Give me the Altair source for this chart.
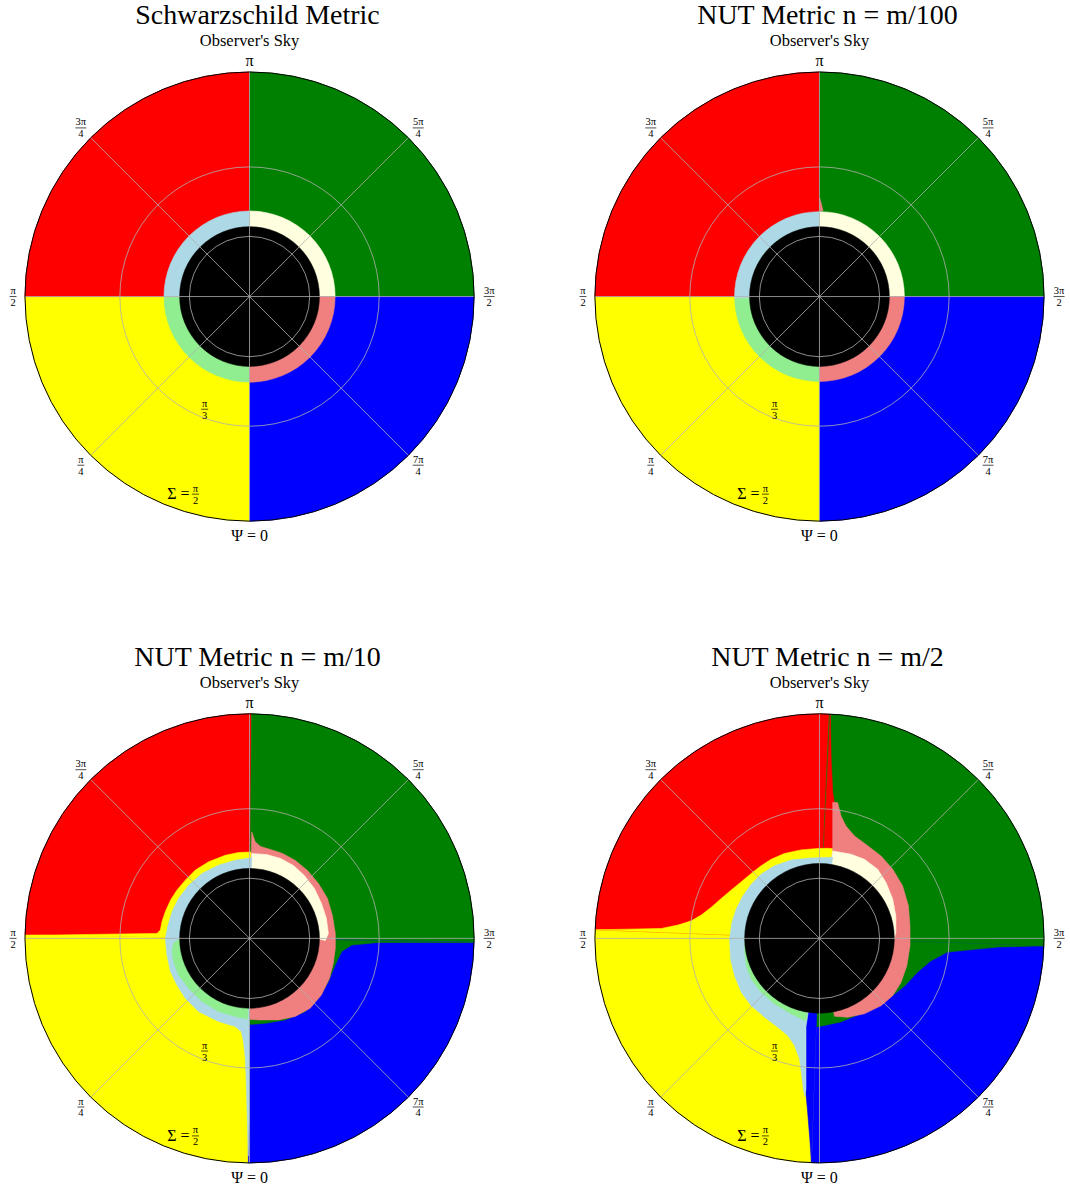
import math
import numpy as np
import pandas as pd
import altair as alt

# ------------------------------------------------------------------ colours
RED, GREEN, BLUE, YELLOW = "#ff0000", "#008000", "#0000ff", "#ffff00"
LIGHTBLUE, LIGHTYELLOW, LIGHTGREEN, LIGHTCORAL = "#add8e6", "#ffffe0", "#90ee90", "#f08080"
SHADOW_COLOR = "#000000"
GRID_COLOR = "#b0b0b0"
SERIF = "Liberation Serif"

# ------------------------------------------------------------------ panels
TITLES = [
    "Schwarzschild Metric",
    "NUT Metric n = m/100",
    "NUT Metric n = m/10",
    "NUT Metric n = m/2",
]
SUBTITLE = "Observer's Sky"

# Ψ (deg) where the four direct-image colours meet the rim of the sky,
# in the order yellow -> red -> green -> blue -> (yellow)
RIM_EDGES = [
    [0.0, 90.0, 180.0, 270.0, 360.0],
    [0.0, 90.0, 180.0, 270.0, 360.0],
    [0.3, 91.0, 180.5, 271.0, 360.3],
    [2.0, 92.2, 182.5, 272.0, 362.0],
]
RIM_COLORS = [YELLOW, RED, GREEN, BLUE]

# concentric secondary-image ring (first two panels)
RING_EDGES = [
    [0.0, 90.0, 180.0, 270.0, 360.0],
    [0.0, 89.0, 180.0, 270.0, 360.0],
]
RING_COLORS = [LIGHTGREEN, LIGHTBLUE, LIGHTYELLOW, LIGHTCORAL]
RING_RADIUS = [0.381, 0.378]

# shadow radius, in units of tan(Σ/2)
SHADOW_RADIUS = [0.311, 0.311, 0.311, 0.333]

# ------------------------------------------------------------------ twisted regions
# vertices (X, Y) on the projected sky plane, unit = rim of the sky
NUT100_CORAL_WISP = [(0.001, 0.440), (0.016, 0.382), (0.001, 0.382)]

NUT10_GREEN = [(0.999, -0.018), (0.573, -0.018), (0.455, -0.030), (0.410, -0.059),
               (0.381, -0.119), (0.351, -0.192), (0.307, -0.267), (0.248, -0.326),
               (0.159, -0.363), (0.070, -0.378), (-0.007, -0.384), (0.0, 0.0)]
NUT10_YELLOW = [(-0.999, 0.013), (-0.412, 0.022), (-0.397, 0.037), (-0.390, 0.074),
                (-0.375, 0.119), (-0.352, 0.170), (-0.323, 0.215), (-0.286, 0.259),
                (-0.241, 0.304), (-0.182, 0.341), (-0.108, 0.370), (-0.049, 0.382),
                (0.010, 0.385), (0.0, 0.0)]
NUT10_CORAL = [(0.010, 0.474), (0.025, 0.430), (0.049, 0.409), (0.093, 0.396),
               (0.147, 0.378), (0.204, 0.347), (0.258, 0.302), (0.307, 0.244),
               (0.347, 0.178), (0.369, 0.102), (0.382, 0.022), (0.382, -0.044),
               (0.373, -0.111), (0.356, -0.178), (0.320, -0.252), (0.270, -0.311),
               (0.203, -0.348), (0.129, -0.363), (0.040, -0.363), (-0.002, -0.360),
               (0.0, 0.0)]
NUT10_CREAM = [(0.010, 0.378), (0.076, 0.373), (0.138, 0.356), (0.196, 0.324),
               (0.244, 0.280), (0.289, 0.222), (0.320, 0.156), (0.342, 0.089),
               (0.351, 0.022), (0.338, -0.009), (0.311, -0.004), (0.0, 0.0)]
NUT10_LIGHTBLUE = [(0.010, 0.359), (-0.064, 0.348), (-0.138, 0.326), (-0.212, 0.289),
                   (-0.271, 0.237), (-0.316, 0.178), (-0.345, 0.119), (-0.363, 0.059),
                   (-0.375, 0.000), (-0.368, -0.074), (-0.352, -0.148), (-0.323, -0.208),
                   (-0.286, -0.267), (-0.227, -0.326), (-0.138, -0.370), (-0.064, -0.392),
                   (-0.037, -0.415), (-0.027, -0.459), (-0.019, -0.533), (-0.015, -0.622),
                   (-0.010, -0.800), (-0.006, -0.969), (-0.002, -0.800), (-0.002, -0.387),
                   (0.0, 0.0)]
NUT10_LIGHTGREEN = [(-0.308, 0.000), (-0.338, -0.022), (-0.345, -0.059), (-0.338, -0.104),
                    (-0.316, -0.163), (-0.271, -0.222), (-0.212, -0.281), (-0.138, -0.326),
                    (-0.064, -0.348), (-0.008, -0.359), (0.0, 0.0)]

NUT2_GREEN = [(0.999, -0.033), (0.792, -0.039), (0.570, -0.061), (0.495, -0.101),
              (0.437, -0.150), (0.379, -0.212), (0.290, -0.283), (0.201, -0.328),
              (0.095, -0.372), (-0.008, -0.394), (-0.060, -0.394), (0.0, 0.0)]
NUT2_BLUE = [(-0.036, -0.998), (-0.043, -0.892), (-0.052, -0.781), (-0.060, -0.692),
             (-0.060, -0.394), (0.0, 0.0)]
NUT2_RED = [(0.048, 0.998), (0.052, 0.797), (0.059, 0.650), (0.066, 0.606),
            (0.064, 0.397), (0.0, 0.0)]
NUT2_YELLOW = [(-0.999, 0.038), (-0.850, 0.041), (-0.704, 0.044), (-0.630, 0.059),
               (-0.571, 0.078), (-0.526, 0.104), (-0.482, 0.138), (-0.437, 0.178),
               (-0.393, 0.215), (-0.348, 0.252), (-0.304, 0.289), (-0.260, 0.323),
               (-0.215, 0.352), (-0.156, 0.378), (-0.082, 0.394), (-0.008, 0.400),
               (0.037, 0.401), (0.064, 0.399), (0.0, 0.0)]
NUT2_CORAL = [(0.059, 0.606), (0.081, 0.604), (0.096, 0.545), (0.118, 0.500),
              (0.156, 0.456), (0.215, 0.412), (0.274, 0.367), (0.326, 0.308),
              (0.370, 0.234), (0.396, 0.145), (0.403, 0.056), (0.403, -0.033),
              (0.389, -0.122), (0.363, -0.196), (0.326, -0.255), (0.274, -0.300),
              (0.200, -0.336), (0.126, -0.351), (0.067, -0.347), (0.0, 0.0),
              (0.059, 0.388)]
NUT2_CREAM = [(0.059, 0.389), (0.140, 0.375), (0.200, 0.352), (0.259, 0.308),
              (0.296, 0.249), (0.326, 0.175), (0.340, 0.100), (0.340, 0.027),
              (0.333, -0.003), (0.0, 0.0)]
NUT2_LIGHTBLUE = [(0.059, 0.361), (0.029, 0.360), (-0.037, 0.358), (-0.126, 0.349),
                  (-0.200, 0.323), (-0.260, 0.286), (-0.304, 0.241), (-0.341, 0.189),
                  (-0.371, 0.130), (-0.390, 0.071), (-0.400, -0.003), (-0.396, -0.092),
                  (-0.378, -0.166), (-0.348, -0.240), (-0.304, -0.300), (-0.244, -0.351),
                  (-0.185, -0.396), (-0.141, -0.433), (-0.111, -0.477), (-0.089, -0.536),
                  (-0.079, -0.611), (-0.072, -0.670), (-0.065, -0.705), (-0.060, -0.670),
                  (-0.060, -0.394), (0.0, 0.0)]
NUT2_LIGHTGREEN = [(-0.332, -0.003), (-0.333, -0.062), (-0.326, -0.122), (-0.304, -0.181),
                   (-0.260, -0.240), (-0.200, -0.292), (-0.126, -0.336), (-0.060, -0.368),
                   (0.0, 0.0)]

# regions per panel, in drawing order
REGIONS = [
    [],
    [(LIGHTCORAL, NUT100_CORAL_WISP)],
    [(GREEN, NUT10_GREEN), (YELLOW, NUT10_YELLOW), (LIGHTCORAL, NUT10_CORAL),
     (LIGHTYELLOW, NUT10_CREAM), (LIGHTBLUE, NUT10_LIGHTBLUE), (LIGHTGREEN, NUT10_LIGHTGREEN)],
    [(GREEN, NUT2_GREEN), (BLUE, NUT2_BLUE), (RED, NUT2_RED), (YELLOW, NUT2_YELLOW),
     (LIGHTCORAL, NUT2_CORAL), (LIGHTYELLOW, NUT2_CREAM), (LIGHTBLUE, NUT2_LIGHTBLUE),
     (LIGHTGREEN, NUT2_LIGHTGREEN)],
]

# ------------------------------------------------------------------ axes of the sky
PSI_TICKS = [0, 45, 90, 135, 180, 225, 270, 315]
PSI_NUMERATORS = ["Ψ = 0", "π", "π", "3π", "π", "5π", "3π", "7π"]
PSI_DENOMINATORS = ["", "4", "2", "4", "", "4", "2", "4"]
PSI_LABEL_RADIUS = [1.067, 1.062, 1.053, 1.062, 1.049, 1.062, 1.067, 1.062]

SIGMA_GRID_DEG = [30, 60]          # Σ = π/6, π/3
SIGMA_LABEL_PSI = [21.7, 15.3]
SIGMA_LABEL_RHO = [0.540, 0.912]
SIGMA_LABEL_PREFIX = ["", "Σ ="]
SIGMA_LABEL_NUM = ["π", "π"]
SIGMA_LABEL_DEN = ["3", "2"]

SUBTITLE_RHO = 1.138

R_PX = 225
X_SCALE = alt.Scale(domain=[-1, 1], nice=False, zero=False)
Y_SCALE = alt.Scale(domain=[-1, 1], nice=False, zero=False)
THETA_SCALE = alt.Scale(domain=[0, 360], range=[math.pi, 3 * math.pi])
RADIUS_SCALE = alt.Scale(type="linear", domain=[0, 1], range=[0, R_PX], zero=True, nice=False)


def sky_xy(psi_deg, rho):
    psi = np.radians(np.asarray(psi_deg, dtype=float))
    rho = np.asarray(rho, dtype=float)
    return -rho * np.sin(psi), -rho * np.cos(psi)


def xy_enc():
    return dict(
        x=alt.X("x:Q", scale=X_SCALE, axis=None),
        y=alt.Y("y:Q", scale=Y_SCALE, axis=None),
    )


def arc_layer(df):
    return alt.Chart(df).mark_arc(strokeWidth=0.6).encode(
        theta=alt.Theta("psi0:Q", scale=THETA_SCALE, stack=False),
        theta2="psi1:Q",
        radius=alt.Radius("r1:Q", scale=RADIUS_SCALE),
        radius2="r0:Q",
        fill=alt.Fill("color:N", scale=None),
        stroke=alt.Stroke("color:N", scale=None),
        order=alt.Order("k:Q"),
    )


def circle_layer(df, color, width):
    return alt.Chart(df).mark_arc(filled=False, stroke=color, strokeWidth=width).encode(
        theta=alt.Theta("psi0:Q", scale=THETA_SCALE, stack=False),
        theta2="psi1:Q",
        radius=alt.Radius("r1:Q", scale=RADIUS_SCALE),
    )


def text_layer(df, field, **kw):
    return alt.Chart(df).mark_text(font=SERIF, color="black", **kw).encode(
        text=f"{field}:N", **xy_enc()
    )


def bar_layer(df, half):
    return alt.Chart(df).mark_rule(
        color="black", strokeWidth=0.7, xOffset=-half, x2Offset=half
    ).encode(x2="x:Q", **xy_enc())


def panel(i):
    layers = []

    # direct images of the four sky quadrants
    edges = RIM_EDGES[i]
    base = pd.DataFrame({
        "psi0": edges[:-1], "psi1": edges[1:], "r0": 0.0, "r1": 1.0,
        "color": RIM_COLORS, "k": range(4),
    })
    layers.append(arc_layer(base))

    # twisted regions
    if REGIONS[i]:
        rows = []
        for n, (col, pts) in enumerate(REGIONS[i]):
            for j, (x, y) in enumerate(pts):
                rows.append({"key": f"r{n:02d}", "i": j, "x": x, "y": y, "color": col})
        poly = pd.DataFrame(rows)
        layers.append(
            alt.Chart(poly).mark_line(interpolate="linear-closed", strokeWidth=0.6).encode(
                detail="key:N",
                order="i:Q",
                fill=alt.Fill("color:N", scale=None),
                stroke=alt.Stroke("color:N", scale=None),
                **xy_enc(),
            )
        )

    # secondary ring and shadow
    inner_rows = []
    if i < len(RING_EDGES):
        re_ = RING_EDGES[i]
        for j, col in enumerate(RING_COLORS):
            inner_rows.append({"psi0": re_[j], "psi1": re_[j + 1], "r0": 0.0,
                               "r1": RING_RADIUS[i], "color": col})
    inner_rows.append({"psi0": 0.0, "psi1": 360.0, "r0": 0.0,
                       "r1": SHADOW_RADIUS[i], "color": SHADOW_COLOR})
    inner = pd.DataFrame(inner_rows)
    inner["k"] = range(len(inner))
    layers.append(arc_layer(inner))

    # grid circles, spokes and rim
    circles = pd.DataFrame({
        "psi0": 0.0, "psi1": 360.0,
        "r1": np.tan(np.radians(SIGMA_GRID_DEG) / 2.0),
    })
    layers.append(circle_layer(circles, GRID_COLOR, 0.8))

    sx, sy = sky_xy(PSI_TICKS[:4], 1.0)
    spokes = pd.DataFrame({"x": sx, "y": sy, "x2": -sx, "y2": -sy})
    layers.append(
        alt.Chart(spokes).mark_rule(color=GRID_COLOR, strokeWidth=0.8).encode(
            x2="x2:Q", y2="y2:Q", **xy_enc()
        )
    )

    rim = pd.DataFrame({"psi0": [0.0], "psi1": [360.0], "r1": [1.0]})
    layers.append(circle_layer(rim, "#000000", 1.0))

    # Ψ labels around the rim
    lx, ly = sky_xy(PSI_TICKS, PSI_LABEL_RADIUS)
    lab = pd.DataFrame({"x": lx, "y": ly, "num": PSI_NUMERATORS, "den": PSI_DENOMINATORS})
    plain = lab[lab["den"] == ""]
    frac = lab[lab["den"] != ""][["x", "y", "num", "den"]]

    # Σ labels along the radial direction
    gx, gy = sky_xy(SIGMA_LABEL_PSI, SIGMA_LABEL_RHO)
    sig = pd.DataFrame({"x": gx, "y": gy, "prefix": SIGMA_LABEL_PREFIX,
                        "num": SIGMA_LABEL_NUM, "den": SIGMA_LABEL_DEN})
    frac = pd.concat([frac, sig[["x", "y", "num", "den"]]], ignore_index=True)

    layers.append(text_layer(plain, "num", fontSize=16, baseline="middle"))
    layers.append(text_layer(frac, "num", fontSize=10.5, baseline="alphabetic", dy=-2.5))
    layers.append(text_layer(frac, "den", fontSize=10.5, baseline="top", dy=1.5))
    layers.append(bar_layer(frac[frac["num"].str.len() > 1], 5.5))
    layers.append(bar_layer(frac[frac["num"].str.len() == 1], 3.5))
    layers.append(text_layer(sig[sig["prefix"] != ""], "prefix", fontSize=16,
                             baseline="middle", align="right", dx=-6))

    sub = pd.DataFrame({"x": [0.0], "y": [SUBTITLE_RHO], "t": [SUBTITLE]})
    layers.append(text_layer(sub, "t", fontSize=16.5, baseline="middle"))

    return alt.layer(*layers).properties(
        width=2 * R_PX,
        height=2 * R_PX,
        title=alt.TitleParams(
            text=TITLES[i], font=SERIF, fontSize=28, fontWeight="normal",
            color="black", anchor="middle", offset=3, dx=8,
        ),
    )


chart = alt.concat(
    *[panel(i) for i in range(4)],
    columns=2,
    spacing={"row": 193, "column": 121},
    bounds="flush",
).properties(
    padding={"left": 9, "top": 0, "right": 5, "bottom": 5},
    background="white",
).configure_view(strokeWidth=0)

chart.save("out.html", embed_options={"renderer": "svg", "actions": False})
